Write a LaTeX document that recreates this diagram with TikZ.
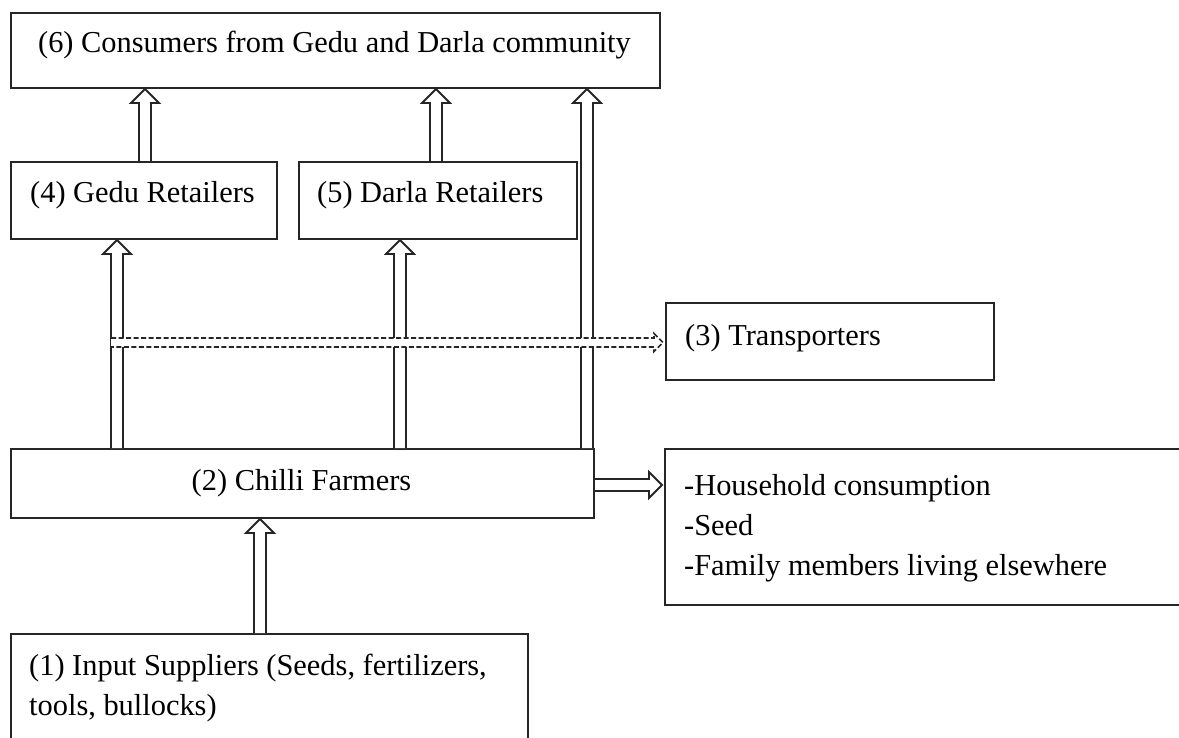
\documentclass[tikz,border=0pt]{standalone}
\usepackage{fontspec}
\setmainfont{Liberation Serif}
\usetikzlibrary{calc}
\tikzset{
  box/.style={draw=black!85, line width=2pt, rectangle, inner sep=0pt, anchor=north west},
  lbl/.style={font=\fontsize{30.4}{40}\selectfont, inner sep=0pt, anchor=base west, align=left},
  clbl/.style={lbl, anchor=base},
  hol/.style={draw=black!85, line width=1.8pt, fill=white, line join=miter},
  dhol/.style={draw=black!85, line width=1.6pt, dash pattern=on 5pt off 2.5pt},
}
% vertical hollow block arrow from #1 (bottom) up to #2 (tip)
\newcommand\vhollow[2]{%
  \draw[hol] let \p1=(#1), \p2=(#2) in
    (\x1-6pt,\y1) -- (\x1-6pt,\y2-14pt) -- (\x1-14pt,\y2-14pt) -- (\x1,\y2)
    -- (\x1+14pt,\y2-14pt) -- (\x1+6pt,\y2-14pt) -- (\x1+6pt,\y1);}
\begin{document}
\begin{tikzpicture}[x=1pt,y=-1pt]
\useasboundingbox (0,0) rectangle (1179,738);
\fill[white] (0,0) rectangle (1179,738);
% boxes
\node[box, minimum width=649pt, minimum height=75pt] (b6) at (10,12) {};
\node[box, minimum width=266pt, minimum height=77pt] (b4) at (10,161) {};
\node[box, minimum width=278pt, minimum height=77pt] (b5) at (298,161) {};
\node[box, minimum width=328pt, minimum height=77pt] (b3) at (665,302) {};
\node[box, minimum width=583pt, minimum height=69pt] (b2) at (10,448) {};
\node[box, minimum width=530pt, minimum height=156pt] (bh) at (664,448) {};
\node[box, minimum width=517pt, minimum height=130pt] (b1) at (10,633) {};
% texts
\node[clbl] (t6) at (334.5,53) {(6) Consumers from Gedu and Darla community};
\node[lbl] (t4) at (30,203) {(4) Gedu Retailers};
\node[lbl] (t5) at (317,203) {(5) Darla Retailers};
\node[lbl] (t3) at (685,345) {(3) Transporters};
\node[clbl] (t2) at (301.5,490) {(2) Chilli Farmers};
\node[lbl] (th) at (684,575) {-Household consumption\\-Seed\\-Family members living elsewhere};
\node[lbl] (t1) at (29,715) {(1) Input Suppliers (Seeds, fertilizers,\\tools, bullocks)};
% arrows
\coordinate (x41) at (117,0);
\coordinate (x52) at (400,0);
\coordinate (x62) at (587,0);
\coordinate (x64) at (145,0);
\coordinate (x65) at (436,0);
\coordinate (x12) at (260,0);
\vhollow{b2.north -| x41}{b4.south -| x41}
\vhollow{b2.north -| x52}{b5.south -| x52}
\vhollow{b2.north -| x62}{b6.south -| x62}
\vhollow{b4.north -| x64}{b6.south -| x64}
\vhollow{b5.north -| x65}{b6.south -| x65}
\vhollow{b1.north -| x12}{b2.south -| x12}
% dashed hollow arrow to transporters
\coordinate (ds) at (111,342.5);
\fill[white] let \p1=(ds), \p2=(b3.west) in (\x1,\y1+4.5pt) rectangle (\x2-6pt,\y1-4.5pt);
\draw[dhol] let \p1=(ds), \p2=(b3.west) in
  (\x1,\y1+4.5pt) -- (\x2-11pt,\y1+4.5pt) -- (\x2-11pt,\y1+9pt) -- (\x2-2pt,\y1)
  -- (\x2-11pt,\y1-9pt) -- (\x2-11pt,\y1-4.5pt) -- (\x1,\y1-4.5pt);
% hollow arrow to household box
\coordinate (hy) at (0,485);
\draw[hol] let \p1=(b2.east |- hy), \p2=(bh.west |- hy) in
  (\x1,\y1+6pt) -- (\x2-15pt,\y1+6pt) -- (\x2-15pt,\y1+13pt) -- (\x2-2pt,\y1)
  -- (\x2-15pt,\y1-13pt) -- (\x2-15pt,\y1-6pt) -- (\x1,\y1-6pt);
\end{tikzpicture}
\end{document}
